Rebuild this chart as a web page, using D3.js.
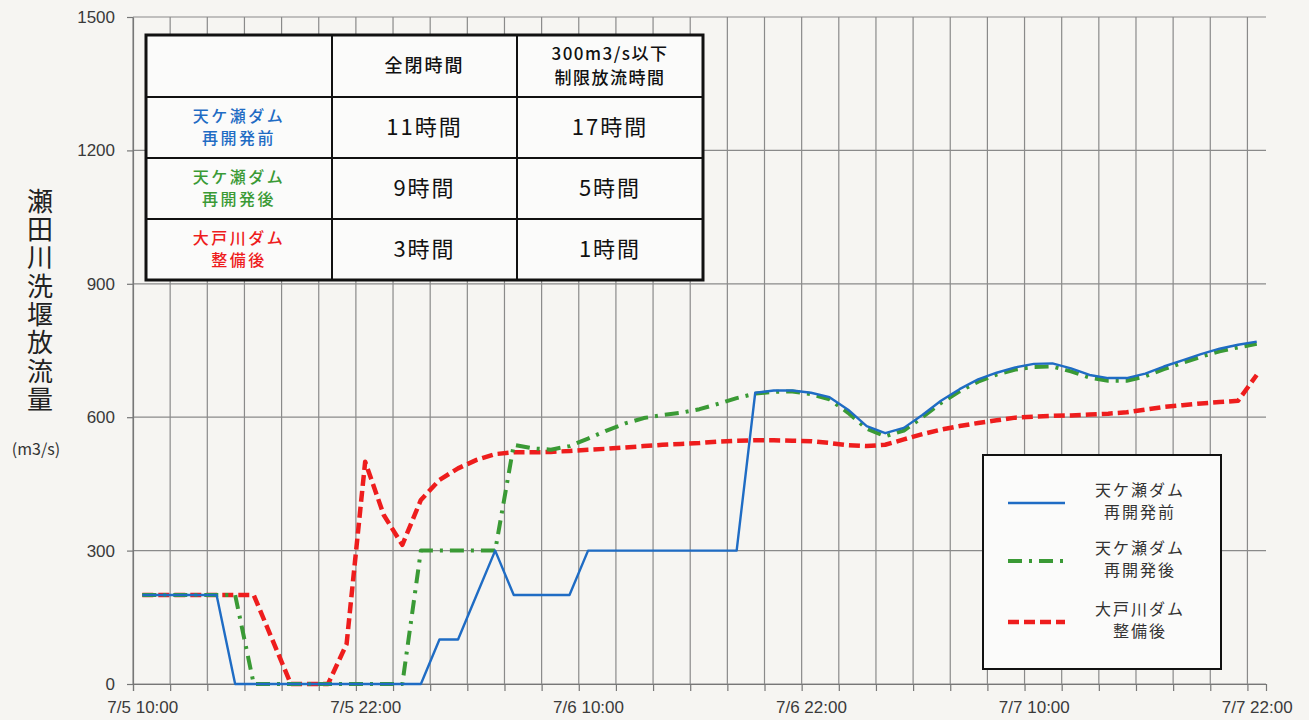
<!DOCTYPE html>
<html>
<head>
<meta charset="utf-8">
<script src="https://cdn.jsdelivr.net/npm/d3@7"></script>
<style>
  body { margin: 0; background: #f6f5f2; }
  svg { display: block; font-family: "Noto Sans CJK JP", "Noto Sans", sans-serif; }
</style>
</head>
<body>
<div id="chart"></div>
<script>
// hourly categories 7/5 10:00 .. 7/7 22:00
var hourLabels = [];
for (var d = 5; d <= 7; d++) {
  for (var h = 0; h < 24; h++) {
    if ((d == 5 && h < 10) || (d == 7 && h > 22)) continue;
    hourLabels.push("7/" + d + " " + h + ":00");
  }
}
var tickIdx = [0, 12, 24, 36, 48, 60];
var yTicks = [0, 300, 600, 900, 1200, 1500];

var seriesNames = [["天ケ瀬ダム", "再開発前"], ["天ケ瀬ダム", "再開発後"], ["大戸川ダム", "整備後"]];

var beforeVals = [200, 200, 200, 200, 200, 0, 0, 0, 0, 0,
  0, 0, 0, 0, 0, 0, 100, 100, 200, 300,
  200, 200, 200, 200, 300, 300, 300, 300, 300, 300,
  300, 300, 300, 655, 660, 660, 655, 645, 617, 580,
  564, 576, 605, 637, 663, 685, 700, 712, 720, 721,
  710, 695, 688, 688, 698, 714, 728, 742, 754, 763, 770];

var afterVals = [200, 200, 200, 200, 200, 200, 0, 0, 0, 0,
  0, 0, 0, 0, 0, 300, 300, 300, 300, 300,
  538, 530, 527, 535, 552, 570, 586, 598, 605, 610,
  618, 630, 643, 653, 657, 658, 652, 640, 610, 574,
  557, 570, 600, 632, 658, 680, 696, 707, 713, 714,
  703, 689, 682, 682, 692, 708, 722, 736, 748, 757, 765];

var oodoVals = [200, 200, 200, 200, 200, 200, 200, 100, 0, 0,
  0, 90, 500, 380, 313, 414, 459, 485, 504, 517,
  521, 521, 522, 524, 527, 529, 532, 535, 538, 540,
  542, 545, 547, 548, 548, 547, 546, 542, 537, 535,
  538, 550, 562, 572, 580, 587, 593, 599, 601, 603,
  604, 606, 608, 611, 617, 623, 627, 631, 634, 637, 695];

var tableHead = ["", "全閉時間", "300m3/s以下\n制限放流時間"];
var closedHours = ["11時間", "9時間", "3時間"];
var limitHours = ["17時間", "5時間", "1時間"];

var colors = ["#1f6cc4", "#3a9a35", "#ee1d1d"];
var dashes = [null, "14,7,3,7", "11,5"];
var widths = [2.4, 4, 4.5];

var svgWidth = 1309, svgHeight = 720;
var margin = { top: 17, left: 133 };
var width = 1133, height = 667;

var svg = d3.select("#chart").append("svg")
  .attr("width", svgWidth).attr("height", svgHeight);

var chartGroup = svg.append("g")
  .attr("transform", `translate(${margin.left}, ${margin.top})`);

var x = d3.scaleLinear().domain([-0.5, hourLabels.length - 0.5]).range([0, width]);
var y = d3.scaleLinear().domain([0, 1500]).range([height, 0]);

// grid
var gridX = d3.range(-0.5, hourLabels.length - 1, 2);
chartGroup.append("g").selectAll("line").data(gridX).enter().append("line")
  .attr("x1", d => x(d)).attr("x2", d => x(d))
  .attr("y1", 0).attr("y2", height)
  .attr("stroke", "#8a8a8a").attr("stroke-width", 1.2);
chartGroup.append("g").selectAll("line").data(yTicks).enter().append("line")
  .attr("x1", 0).attr("x2", width)
  .attr("y1", d => y(d)).attr("y2", d => y(d))
  .attr("stroke", "#8a8a8a").attr("stroke-width", 1.2);

// axes
chartGroup.append("g").attr("transform", `translate(0, ${height})`)
  .call(d3.axisBottom(x).tickValues(gridX).tickFormat("").tickSizeOuter(0).tickSize(7));
var bottomAxis = chartGroup.append("g").attr("transform", `translate(0, ${height})`)
  .call(d3.axisBottom(x).tickValues(tickIdx).tickFormat(i => hourLabels[i]).tickSize(0).tickPadding(17));
bottomAxis.select(".domain").remove();
chartGroup.append("g")
  .call(d3.axisLeft(y).tickValues(yTicks).tickFormat(d3.format("d")).tickSize(6).tickSizeOuter(0).tickPadding(12));
svg.selectAll(".domain, .tick line").attr("stroke", "#777").attr("stroke-width", 1.2);
svg.selectAll(".tick text").attr("fill", "#3a3a3a").style("font-size", "17px");

// y title (vertical writing)
svg.append("text")
  .attr("x", 40).attr("y", 188)
  .style("writing-mode", "vertical-rl")
  .style("text-orientation", "upright")
  .style("font-size", "26px").style("letter-spacing", "2.3px")
  .attr("fill", "#222")
  .text("瀬田川洗堰放流量");
svg.append("text").attr("x", 36).attr("y", 455).attr("text-anchor", "middle")
  .style("font-size", "16px").attr("fill", "#333").text("(m3/s)");

// lines
var allSeries = [beforeVals, afterVals, oodoVals];
var order = [2, 1, 0];
var line = d3.line().x((d, i) => x(i)).y(d => y(d));
chartGroup.append("g").selectAll("path").data(order).enter().append("path")
  .attr("d", k => line(allSeries[k]))
  .attr("fill", "none")
  .attr("stroke", k => colors[k])
  .attr("stroke-width", k => widths[k])
  .attr("stroke-dasharray", k => dashes[k])
  .attr("stroke-linejoin", "round");

// multi-line text as one element with tspans
function multiText(g, cx, cy, lines, size, lh, color, weight, spacing) {
  var t = g.append("text").attr("text-anchor", "middle")
    .style("font-size", size + "px").style("font-weight", weight || 400)
    .style("letter-spacing", (spacing || 0) + "px")
    .attr("fill", color);
  lines.forEach(function(s, i) {
    t.append("tspan").attr("x", cx)
      .attr("y", cy + (i - (lines.length - 1) / 2) * lh)
      .attr("dy", "0.36em").text(s);
  });
}

// table
var colX = [146, 332, 517, 703];
var rowY = [35, 97, 158, 219, 280];
var table = svg.append("g");
table.append("rect").attr("x", colX[0]).attr("y", rowY[0])
  .attr("width", colX[3] - colX[0]).attr("height", rowY[4] - rowY[0])
  .attr("fill", "#fbfbfa").attr("stroke", "#111").attr("stroke-width", 3);
table.selectAll(".vl").data(colX.slice(1, 3)).enter().append("line")
  .attr("x1", d => d).attr("x2", d => d).attr("y1", rowY[0]).attr("y2", rowY[4])
  .attr("stroke", "#111").attr("stroke-width", 2);
table.selectAll(".hl").data(rowY.slice(1, 4)).enter().append("line")
  .attr("x1", colX[0]).attr("x2", colX[3]).attr("y1", d => d).attr("y2", d => d)
  .attr("stroke", "#111").attr("stroke-width", 2);

function cell(col, row, lines, size, lh, color, weight, spacing) {
  multiText(table, (colX[col] + colX[col + 1]) / 2, (rowY[row] + rowY[row + 1]) / 2,
    lines, size, lh, color, weight, spacing);
}
cell(1, 0, [tableHead[1]], 18, 0, "#111", 500, 2);
cell(2, 0, tableHead[2].split("\n"), 17, 24, "#111", 500, 1.5);
seriesNames.forEach(function(n, i) {
  cell(0, i + 1, n, 16, 22, colors[i], 500, 2.5);
  cell(1, i + 1, [closedHours[i]], 22, 0, "#111", 400, 2);
  cell(2, i + 1, [limitHours[i]], 22, 0, "#111", 400, 2);
});

// legend
var legend = svg.append("g").attr("transform", "translate(983, 455)");
legend.append("rect").attr("width", 238).attr("height", 214)
  .attr("fill", "#fbfbfa").attr("stroke", "#111").attr("stroke-width", 2);
var legY = [48, 106, 167];
seriesNames.forEach(function(n, i) {
  legend.append("line").attr("x1", 25).attr("x2", 82)
    .attr("y1", legY[i]).attr("y2", legY[i])
    .attr("stroke", colors[i]).attr("stroke-width", widths[i])
    .attr("stroke-dasharray", dashes[i]);
  multiText(legend, 157, legY[i] - 2, n, 16, 22, "#333", 400, 2);
});
</script>
</body>
</html>
